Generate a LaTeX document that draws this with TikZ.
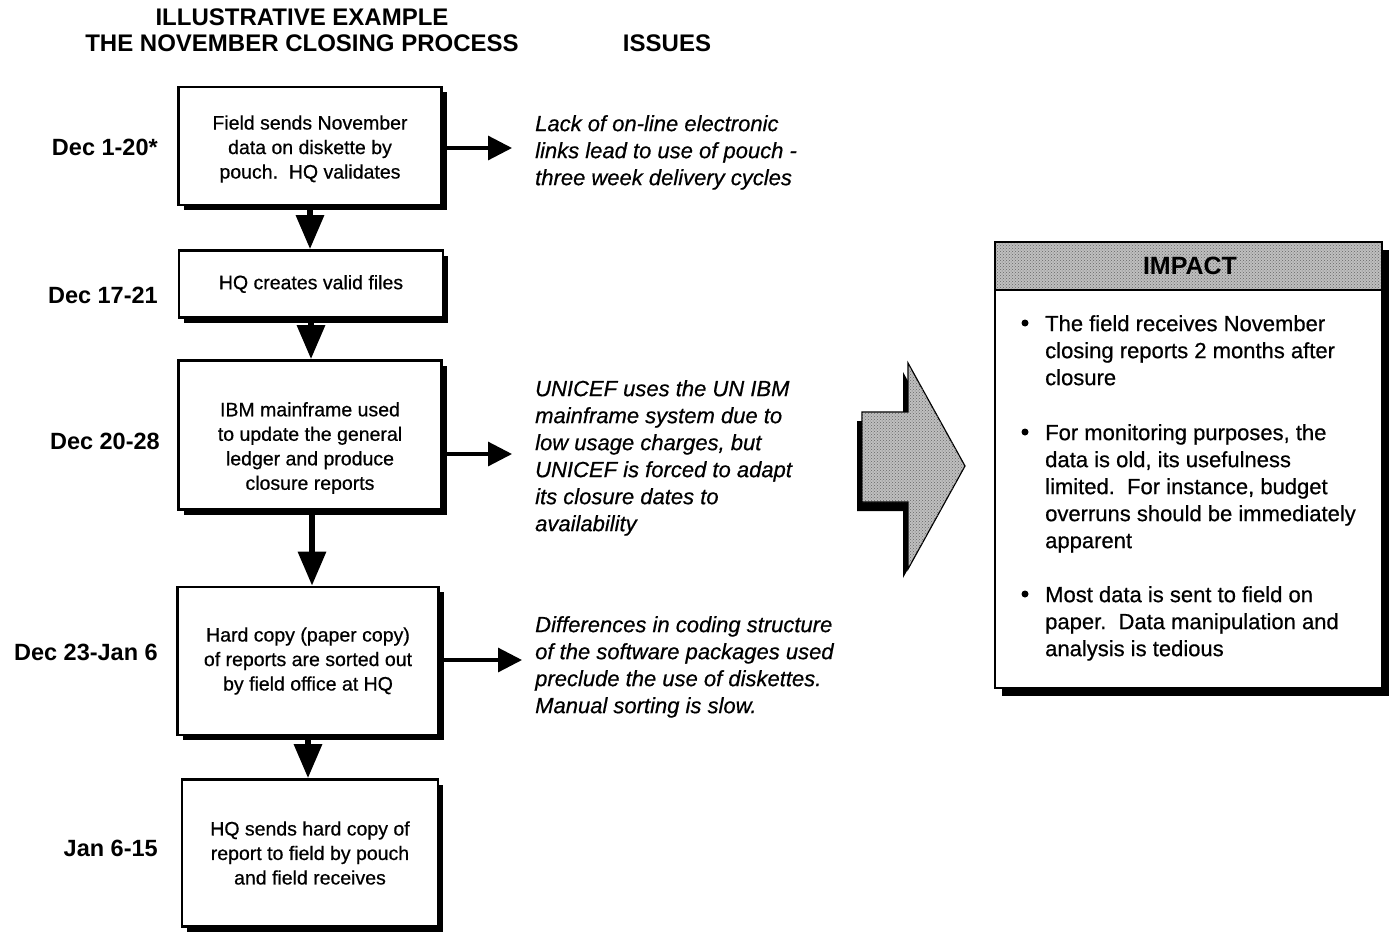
\documentclass[tikz,border=0pt]{standalone}
\usepackage{fontspec}
\setmainfont{Liberation Sans}
\newfontfamily\bodyfont[FakeBold=0.6]{Liberation Sans}
\usetikzlibrary{arrows.meta,shadows,patterns}
\begin{document}
\begin{tikzpicture}[x=1pt,y=-1pt,
  stepbox/.style={draw, line width=2.6pt, fill=white, inner sep=0pt, align=center,
    font=\bodyfont\fontsize{19.5}{24.5}\selectfont,
    general shadow={fill=black, shadow xshift=5pt, shadow yshift=-5pt}},
  steptext/.style={inner sep=0pt, align=center, font=\bodyfont\fontsize{19.5}{24.5}\selectfont},
  datelabel/.style={anchor=east, inner sep=0pt, font=\bfseries\fontsize{23.5}{28}\selectfont},
  headline/.style={inner sep=0pt, font=\bfseries\fontsize{24}{26}\selectfont},
  issue/.style={anchor=north west, inner sep=0pt, align=left,
    font=\bodyfont\itshape\fontsize{22}{27}\selectfont},
  point/.style={anchor=north west, inner sep=0pt, align=left,
    font=\bodyfont\fontsize{22}{27}\selectfont},
  bulletmark/.style={circle, fill=black, inner sep=0pt, minimum size=7pt},
  downarrow/.style={-{Triangle[width=27pt,length=34pt]}, line width=6pt},
  toissue/.style={-{Triangle[width=24pt,length=24pt]}, line width=3.2pt},
  halftone/.style={fill=black!25, postaction={pattern=crosshatch dots, pattern color=black!60}}
]
\useasboundingbox (0,0) rectangle (1397,937);

% column headings
\node[headline] (h1) at (302,17) {ILLUSTRATIVE EXAMPLE};
\node[headline] (h2) at (302,43) {THE NOVEMBER CLOSING PROCESS};
\node[headline] (h3) at (667,43) {ISSUES};

% process steps (box outlines, text placed separately where it sits off-centre)
\node[stepbox, minimum width=263pt, minimum height=118pt] (b1) at (310,146) {};
\node[steptext] (t1) at (310,149)
  {Field sends November\\ data on diskette by\\ pouch.\ \ HQ validates};
\node[stepbox, minimum width=264pt, minimum height=67pt] (b2) at (311,284)
  {HQ creates valid files};
\node[stepbox, minimum width=263pt, minimum height=149pt] (b3) at (310,435) {};
\node[steptext] (t3) at (310,448)
  {IBM mainframe used\\ to update the general\\ ledger and produce\\ closure reports};
\node[stepbox, minimum width=261pt, minimum height=148pt] (b4) at (308,661)
  {Hard copy (paper copy)\\ of reports are sorted out\\ by field office at HQ};
\node[stepbox, minimum width=256pt, minimum height=147pt] (b5) at (310,853)
  {HQ sends hard copy of\\ report to field by pouch\\ and field receives};

% dates
\node[datelabel] (d1) at (158,147) {Dec 1-20*};
\node[datelabel] (d2) at (158,295) {Dec 17-21};
\node[datelabel] (d3) at (160,441) {Dec 20-28};
\node[datelabel] (d4) at (158,652) {Dec 23-Jan 6};
\node[datelabel] (d5) at (158,848) {Jan 6-15};

% flow between steps
\draw[downarrow] (b1.south) -- (b1.south |- b2.north);
\draw[downarrow] (b2.south) -- (b2.south |- b3.north);
\draw[downarrow] ([xshift=2pt]b3.south) -- ([xshift=2pt]b3.south |- b4.north);
\draw[downarrow] (b4.south) -- (b4.south |- b5.north);

% issues
\node[issue] (i1) at (535,115)
  {Lack of on-line electronic\\ links lead to use of pouch -\\ three week delivery cycles};
\node[issue] (i2) at (535,380)
  {UNICEF uses the UN IBM\\ mainframe system due to\\ low usage charges, but\\
   UNICEF is forced to adapt\\ its closure dates to\\ availability};
\node[issue] (i3) at (535,616)
  {Differences in coding structure\\ of the software packages used\\
   preclude the use of diskettes.\\ Manual sorting is slow.};

\coordinate (a1) at (512,148);
\coordinate (a3) at (512,454);
\coordinate (a4) at (522,660);
\draw[toissue] (b1.east |- a1) -- (a1);
\draw[toissue] (b3.east |- a3) -- (a3);
\draw[toissue] (b4.east |- a4) -- (a4);

% large arrow towards the impact panel
\fill[black, shift={(-5,9)}] (862,412) -- (908,412) -- (908,363) -- (965,466)
  -- (908,569) -- (908,502) -- (862,502) -- cycle;
\path[halftone, draw=black, line width=1.2pt] (862,412) -- (908,412) -- (908,363) -- (965,466)
  -- (908,569) -- (908,502) -- (862,502) -- cycle;

% impact panel
\node[draw, line width=2.6pt, fill=white, outer sep=0pt, minimum width=387pt,
  minimum height=446pt,
  general shadow={fill=black, shadow xshift=7pt, shadow yshift=-8pt}] (imp) at (1188.5,465) {};
\path[halftone] (imp.north west) rectangle ([yshift=-48pt]imp.north east);
\draw[line width=2.6pt] ([yshift=-48pt]imp.north west) -- ([yshift=-48pt]imp.north east);
\draw[line width=2.6pt] (imp.north west) rectangle (imp.south east);
\node[headline, font=\bfseries\fontsize{25}{26}\selectfont] (impt) at (1190,266) {IMPACT};

\node[bulletmark] (m1) at (1025,323) {};
\node[bulletmark] (m2) at (1025,432) {};
\node[bulletmark] (m3) at (1025,594) {};
\node[point] (p1) at (1045,315)
  {The field receives November\\ closing reports 2 months after\\ closure};
\node[point] (p2) at (1045,424)
  {For monitoring purposes, the\\ data is old, its usefulness\\
   limited.\ \ For instance, budget\\ overruns should be immediately\\ apparent};
\node[point] (p3) at (1045,586)
  {Most data is sent to field on\\ paper.\ \ Data manipulation and\\ analysis is tedious};
\end{tikzpicture}
\end{document}
